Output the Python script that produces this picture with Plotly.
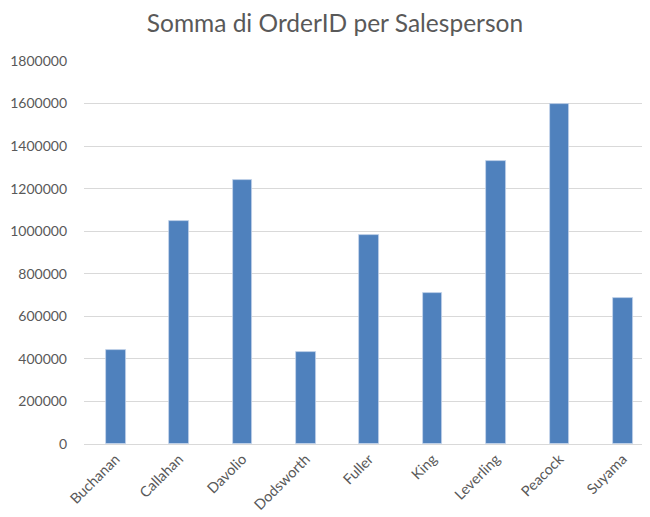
import plotly.graph_objects as go

salespersons = ["Buchanan", "Callahan", "Davolio", "Dodsworth", "Fuller",
                "King", "Leverling", "Peacock", "Suyama"]
order_id_sum = [441000, 1048000, 1242000, 434000, 981000,
                708000, 1328000, 1600000, 688000]
y_ticks = [0, 200000, 400000, 600000, 800000, 1000000,
           1200000, 1400000, 1600000, 1800000]

fig = go.Figure()
fig.add_trace(go.Bar(
    x=salespersons, y=order_id_sum,
    marker=dict(color="#4f81bd", line=dict(color="rgba(200,215,235,0.9)", width=0.8)),
    width=0.31,
))

fig.update_layout(
    width=650, height=517,
    margin=dict(l=76, r=8, t=53, b=81, autoexpand=False),
    paper_bgcolor="white", plot_bgcolor="white",
    showlegend=False,
    title=dict(text="Somma di OrderID per Salesperson", x=0.503, xanchor="center",
               y=0.970, yanchor="middle",
               font=dict(family="Lato", size=24.5, color="#595959")),
    font=dict(family="Lato", color="#595959"),
    bargap=0,
)
fig.update_xaxes(
    type="category", range=[-0.5, 8.43], automargin=False,
    tickangle=-45, tickfont=dict(family="Lato", size=14.5, color="#595959"),
    showgrid=False, showline=True, linecolor="#d9d9d9", linewidth=1,
    ticks="", fixedrange=True,
)
fig.update_yaxes(
    range=[0, 1800000], tickvals=y_ticks, ticktext=[str(v) for v in y_ticks],
    automargin=False,
    tickfont=dict(family="Lato", size=14, color="#595959"),
    showgrid=True, gridcolor="#d9d9d9", gridwidth=1,
    zeroline=False, showline=False, ticks="", ticklabelstandoff=16,
)

fig.write_html("out.html")
